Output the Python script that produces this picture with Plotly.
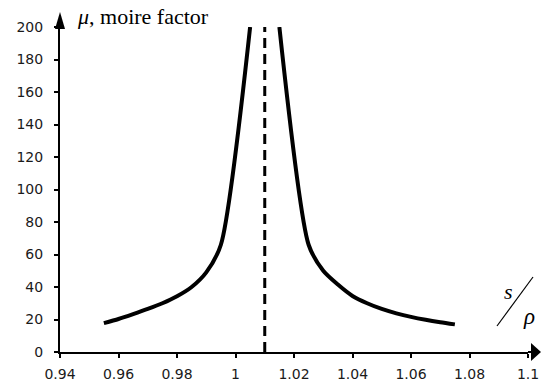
import plotly.graph_objects as go

# Data
left_x = [0.955, 0.96, 0.965, 0.97, 0.975, 0.98, 0.985, 0.99, 0.995, 1.005]
left_y = [17.8, 20.3, 23.3, 26.5, 30.0, 34.3, 40.0, 49.0, 66.0, 200.0]
right_x = [1.015, 1.025, 1.03, 1.035, 1.04, 1.045, 1.05, 1.055, 1.06, 1.065, 1.07, 1.075]
right_y = [200.0, 66.0, 50.0, 41.5, 34.5, 30.0, 26.5, 23.8, 21.6, 19.8, 18.3, 17.0]
resonance_x = 1.01
x_ticks = [0.94, 0.96, 0.98, 1.0, 1.02, 1.04, 1.06, 1.08, 1.1]
x_tick_text = ["0.94", "0.96", "0.98", "1", "1.02", "1.04", "1.06", "1.08", "1.1"]
y_ticks = [0, 20, 40, 60, 80, 100, 120, 140, 160, 180, 200]

W, H = 541, 382
ML, MR, MT, MB = 60, 13, 27, 30
PW, PH = W - ML - MR, H - MT - MB

def px(x):
    return (x - ML) / PW

def py(y):
    return (H - MB - y) / PH

fig = go.Figure()
fig.add_trace(go.Scatter(x=left_x, y=left_y, mode="lines",
                         line=dict(color="black", width=4, shape="spline", smoothing=0.7),
                         showlegend=False))
fig.add_trace(go.Scatter(x=right_x, y=right_y, mode="lines",
                         line=dict(color="black", width=4, shape="spline", smoothing=0.7),
                         showlegend=False))
fig.add_trace(go.Scatter(x=[resonance_x, resonance_x], y=[0, 200], mode="lines",
                         line=dict(color="black", width=3, dash="10px,6px"),
                         showlegend=False))

axis_common = dict(showgrid=False, zeroline=False, showline=True, linecolor="black",
                   linewidth=2, ticks="outside", ticklen=4, tickwidth=2, tickcolor="black",
                   automargin=False,
                   tickfont=dict(family="DejaVu Sans", size=14, color="#1a1a1a"))

fig.update_xaxes(range=[0.94, 1.1], tickvals=x_ticks, ticktext=x_tick_text,
                 ticklabelstandoff=4, **axis_common)
fig.update_yaxes(range=[0, 200], tickvals=y_ticks, ticklabelstandoff=8, **axis_common)

shapes = []
# y-axis arrow head
shapes.append(dict(type="path", xref="paper", yref="paper",
                   path=f"M {px(55)} {py(29)} L {px(60)} {py(12)} L {px(65)} {py(29)} Z",
                   fillcolor="black", line=dict(color="black", width=0)))
# x-axis extension + arrow head
shapes.append(dict(type="line", xref="paper", yref="paper", x0=1, x1=px(533), y0=0, y1=0,
                   line=dict(color="black", width=2)))
shapes.append(dict(type="path", xref="paper", yref="paper",
                   path=f"M {px(531)} {py(343)} L {px(541)} {py(352)} L {px(531)} {py(361)} Z",
                   fillcolor="black", line=dict(color="black", width=0)))
# slash of s/rho
shapes.append(dict(type="line", xref="paper", yref="paper", x0=px(497), y0=py(326),
                   x1=px(533), y1=py(277), line=dict(color="black", width=1.2)))
fig.update_layout(shapes=shapes)

annotations = [
    dict(xref="paper", yref="paper", x=px(75), y=py(31), xanchor="left", yanchor="bottom",
         text="<i>μ</i>, moire factor", showarrow=False,
         font=dict(family="Liberation Serif", size=22, color="black")),
    dict(xref="paper", yref="paper", x=px(508), y=py(291), xanchor="center", yanchor="middle",
         text="<i>s</i>", showarrow=False,
         font=dict(family="Liberation Serif", size=22, color="black")),
    dict(xref="paper", yref="paper", x=px(529), y=py(316), xanchor="center", yanchor="middle",
         text="<i>ρ</i>", showarrow=False,
         font=dict(family="Liberation Serif", size=23, color="black")),
]
fig.update_layout(annotations=annotations)

fig.update_layout(width=W, height=H, margin=dict(l=ML, r=MR, t=MT, b=MB),
                  paper_bgcolor="white", plot_bgcolor="white", showlegend=False)

fig.write_html("out.html")
